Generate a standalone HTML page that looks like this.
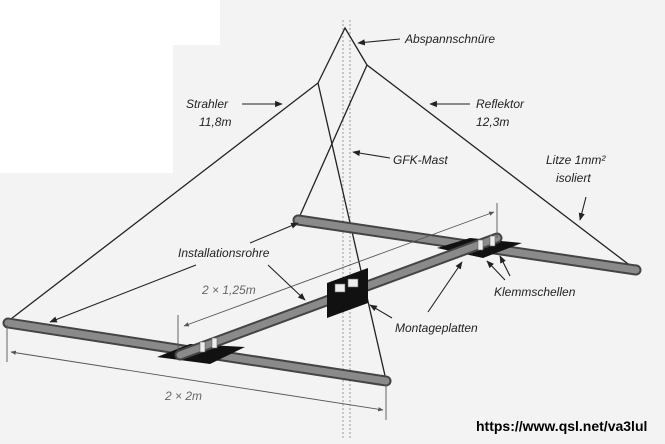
<!DOCTYPE html>
<html><head><meta charset="utf-8"><style>
html,body{margin:0;padding:0;background:#fff}
svg{display:block}
text{font-family:"Liberation Sans",sans-serif;font-style:italic;font-size:12px;fill:#222}
</style></head><body>
<svg width="665" height="444" viewBox="0 0 665 444" xmlns="http://www.w3.org/2000/svg">
<defs>
<marker id="a" viewBox="0 0 10 10" refX="9" refY="5" markerWidth="7" markerHeight="7" orient="auto"><path d="M0,1 L10,5 L0,9 z" fill="#222"/></marker>
<marker id="g" viewBox="0 0 10 10" refX="9" refY="5" markerWidth="6" markerHeight="6" orient="auto-start-reverse"><path d="M0,1 L10,5 L0,9 z" fill="#555"/></marker>
</defs>
<rect width="665" height="444" fill="#f3f3f3"/>
<rect x="0" y="0" width="220" height="45" fill="#fff"/>
<rect x="0" y="45" width="173" height="128" fill="#fff"/>
<g stroke="#aaa" stroke-width="1.2" stroke-dasharray="2,2">
<line x1="343" y1="20" x2="343" y2="438"/><line x1="350" y1="20" x2="350" y2="438"/>
</g>
<g stroke="#222" stroke-width="1.3" fill="none">
<polyline points="7,322 318,83 345,28 367,65 636,270"/>
<line x1="318" y1="83" x2="386" y2="380"/>
<line x1="367" y1="65" x2="298" y2="220"/>
</g>
<g stroke-linecap="round">
<line x1="298" y1="220" x2="636" y2="270" stroke="#444" stroke-width="11"/>
<line x1="298" y1="220" x2="636" y2="270" stroke="#8a8a8a" stroke-width="7"/>
<line x1="8" y1="323" x2="386" y2="381" stroke="#444" stroke-width="11"/>
<line x1="8" y1="323" x2="386" y2="381" stroke="#8a8a8a" stroke-width="7"/>
</g>
<polygon points="157,357 190,344 245,347 210,364" fill="#111"/>
<polygon points="437,248 470,238 522,243 483,258" fill="#111"/>
<g stroke-linecap="round">
<line x1="180" y1="355" x2="497" y2="238" stroke="#444" stroke-width="11"/>
<line x1="180" y1="355" x2="497" y2="238" stroke="#8a8a8a" stroke-width="7"/>
</g>
<polygon points="327,283 368,268 368,303 327,318" fill="#111"/>
<g fill="#eee" stroke="#666" stroke-width="0.6">
<rect x="200" y="342" width="5" height="10"/><rect x="212" y="338" width="5" height="10"/>
<rect x="478" y="240" width="5" height="10"/><rect x="490" y="236" width="5" height="10"/>
<rect x="335" y="284" width="10" height="8"/><rect x="348" y="279" width="10" height="8"/>
</g>
<g stroke="#555" stroke-width="0.9">
<line x1="7" y1="325" x2="7" y2="362"/><line x1="386" y1="385" x2="386" y2="420"/>
<line x1="11" y1="352" x2="383" y2="410" marker-start="url(#g)" marker-end="url(#g)"/>
<line x1="178" y1="315" x2="178" y2="350"/><line x1="497" y1="203" x2="497" y2="238"/>
<line x1="184" y1="326" x2="494" y2="212" marker-start="url(#g)" marker-end="url(#g)"/>
</g>
<text x="165" y="400" style="fill:#666">2 × 2m</text>
<text x="202" y="294" style="fill:#666">2 × 1,25m</text>
<g stroke="#222" stroke-width="1.1" marker-end="url(#a)">
<line x1="400" y1="39" x2="358" y2="43"/>
<line x1="242" y1="104" x2="282" y2="104"/>
<line x1="470" y1="104" x2="430" y2="104"/>
<line x1="390" y1="158" x2="353" y2="152"/>
<line x1="586" y1="197" x2="580" y2="220"/>
<line x1="250" y1="243" x2="298" y2="223"/>
<line x1="196" y1="265" x2="50" y2="322"/>
<line x1="268" y1="265" x2="305" y2="300"/>
<line x1="505" y1="280" x2="487" y2="261"/>
<line x1="510" y1="276" x2="500" y2="256"/>
<line x1="392" y1="318" x2="370" y2="305"/>
<line x1="428" y1="312" x2="462" y2="262"/>
</g>
<text x="405" y="43">Abspannschnüre</text>
<text x="186" y="108">Strahler</text>
<text x="199" y="126">11,8m</text>
<text x="476" y="108">Reflektor</text>
<text x="476" y="126">12,3m</text>
<text x="393" y="164">GFK-Mast</text>
<text x="546" y="164">Litze 1mm²</text>
<text x="556" y="182">isoliert</text>
<text x="178" y="257">Installationsrohre</text>
<text x="494" y="296">Klemmschellen</text>
<text x="395" y="332">Montageplatten</text>
<text x="476" y="431" style="font-style:normal;font-weight:bold;font-size:14px;fill:#000">https://www.qsl.net/va3lul</text>
</svg>
</body></html>
